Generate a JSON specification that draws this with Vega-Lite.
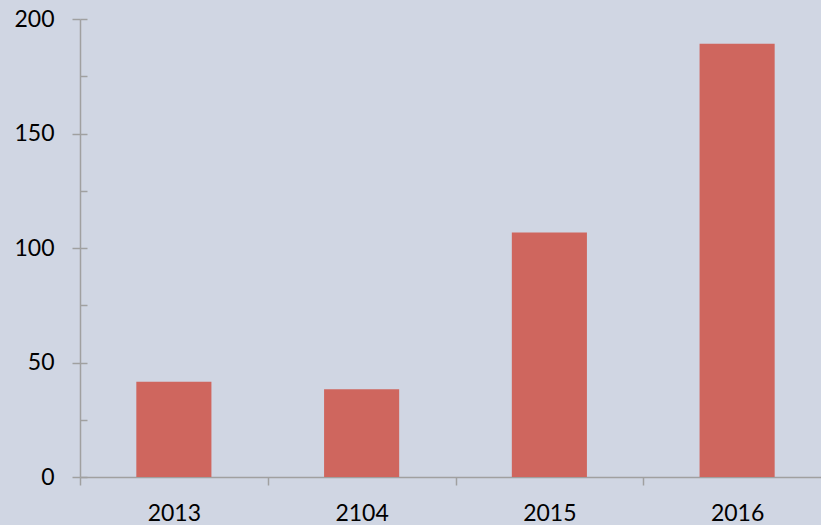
{
  "$schema": "https://vega.github.io/schema/vega-lite/v6.json",
  "autosize": "none",
  "padding": {"left": 80, "top": 19, "right": 0, "bottom": 48},
  "width": 741,
  "height": 458,
  "background": "#d0d6e3",
  "config": {
    "view": {"stroke": null},
    "axis": {"labelFont": "Lato", "labelFontSize": 23, "labelColor": "#000000", "domainColor": "#a0a0a0", "tickColor": "#a0a0a0", "domainWidth": 1.5, "tickWidth": 1.5, "grid": false, "title": null}
  },
  "data": {"values": [
    {"year": "2013", "value": 41.6},
    {"year": "2104", "value": 38.3},
    {"year": "2015", "value": 106.8},
    {"year": "2016", "value": 189.2}
  ]},
  "layer": [
    {
      "mark": {"type": "bar", "color": "#cf665e", "width": {"band": 0.4}},
      "encoding": {
        "x": {"field": "year", "type": "nominal", "sort": null,
              "scale": {"range": [0, 751], "paddingInner": 0, "paddingOuter": 0},
              "axis": {"labelAngle": 0, "tickBand": "extent", "tickSize": 8, "labelPadding": 17}},
        "y": {"field": "value", "type": "quantitative",
              "scale": {"domain": [0, 200], "nice": false},
              "axis": {"values": [0, 50, 100, 150, 200], "tickSize": 8, "labelPadding": 18}}
      }
    },
    {
      "mark": {"type": "bar", "opacity": 0},
      "encoding": {
        "x": {"field": "year", "type": "nominal", "sort": null},
        "y": {"field": "value", "type": "quantitative",
              "axis": {"orient": "left", "values": [0, 25, 50, 75, 100, 125, 150, 175, 200], "tickSize": -7, "labels": false, "domain": false}}
      }
    }
  ],
  "resolve": {"axis": {"y": "independent"}}
}
